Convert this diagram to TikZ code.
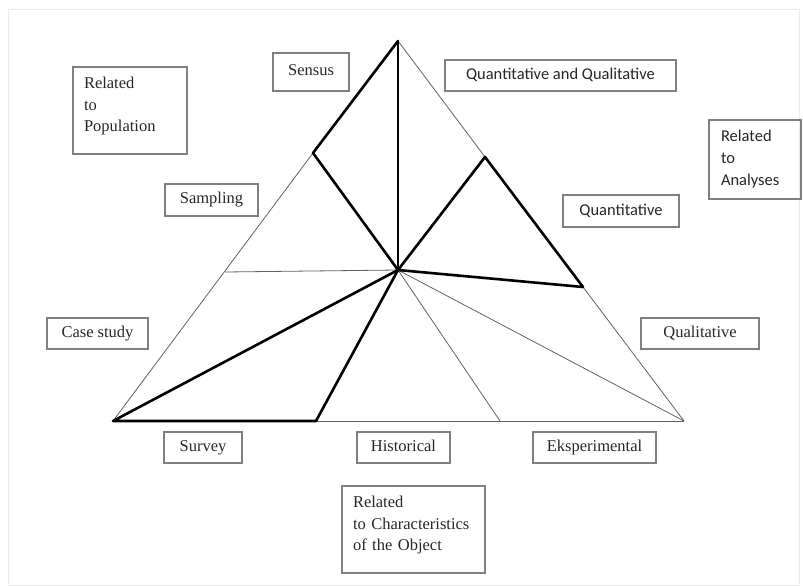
\documentclass[tikz,border=0pt]{standalone}
\usepackage{fontspec}
\setmainfont{Liberation Serif}
\newfontfamily\calibrifont{Carlito}
\tikzset{
	labelbox/.style={rectangle, draw=black!50, line width=1.2pt, text=black!85, inner sep=0pt,
		font=\fontsize{16.5}{21.5}\selectfont, align=center, minimum height=31pt},
	tagbox/.style={labelbox, text height=11.5pt, text depth=3.5pt},
	notebox/.style={labelbox, align=left, inner xsep=11pt, text width=#1},
	sanstext/.style={font=\calibrifont\fontsize{16.5}{22}\selectfont},
	thinedge/.style={draw=black!62, line width=0.8pt},
	thickedge/.style={draw=black, line width=2.6pt, line join=round, line cap=round}
}

\begin{document}
\begin{tikzpicture}[x=1pt, y=-1pt]
	\useasboundingbox (0,0) rectangle (803,588);
	\draw[black!8, line width=0.6pt] (8,9) rectangle (799,585);

	\coordinate (apex) at (398,41);
	\coordinate (bl) at (113,421);
	\coordinate (br) at (684,421);
	\coordinate (ctr) at (398,270);
	\coordinate (lmid) at (225,272);
	\coordinate (lup) at (313,153);
	\coordinate (rup) at (485,157);
	\coordinate (rlow) at (583,287);
	\coordinate (bsurv) at (316,421);
	\coordinate (bexp) at (500,421);

	\draw[thinedge] (lup) -- (bl);
	\draw[thinedge] (apex) -- (rup);
	\draw[thinedge] (rlow) -- (br);
	\draw[thinedge] (bsurv) -- (br);
	\draw[thinedge] (lmid) -- (ctr);
	\draw[thinedge] (ctr) -- (bexp);
	\draw[thinedge] (ctr) -- (br);

	\draw[thickedge] (apex) -- (ctr);
	\draw[thickedge] (apex) -- (lup) -- (ctr);
	\draw[thickedge] (ctr) -- (rup) -- (rlow) -- cycle;
	\draw[thickedge] (bsurv) -- (bl) -- (ctr);
	\draw[thickedge] (bsurv) -- (ctr);

	\node[notebox=92pt, minimum width=114pt, minimum height=87pt] (pop) at (130,110.5)
		{Related\\to\\Population\rule[-12pt]{0pt}{12pt}};
	\node[tagbox, minimum width=76pt, minimum height=38pt] (sensus) at (311,72) {Sensus};
	\node[tagbox, minimum width=93pt, minimum height=32pt] (sampling) at (211.5,200) {Sampling};
	\node[tagbox, minimum width=101pt] (casestudy) at (97.5,333.5) {Case study};
	\node[tagbox, sanstext, minimum width=231pt] (quantqual) at (560.5,75.5) {Quantitative and Qualitative};
	\node[notebox=68pt, sanstext, minimum width=92pt, minimum height=79pt, inner xsep=12pt] (analyses) at (755,159.5)
		{Related\\to\\Analyses};
	\node[tagbox, sanstext, minimum width=116pt, minimum height=32pt] (quant) at (621,211) {Quantitative};
	\node[tagbox, minimum width=118pt] (qual) at (700,333.5) {Qualitative};
	\node[tagbox, minimum width=78pt] (survey) at (203,447.5) {Survey};
	\node[tagbox, minimum width=93pt] (historical) at (403.5,447.5) {Historical};
	\node[tagbox, minimum width=123pt] (eksp) at (594.5,447.5) {Eksperimental};
	\node[notebox=121pt, minimum width=143pt, minimum height=87pt] (charobj) at (413.5,529.5)
		{Related\\to Characteristics\\of the Object\rule[-12pt]{0pt}{12pt}};
\end{tikzpicture}
\end{document}
